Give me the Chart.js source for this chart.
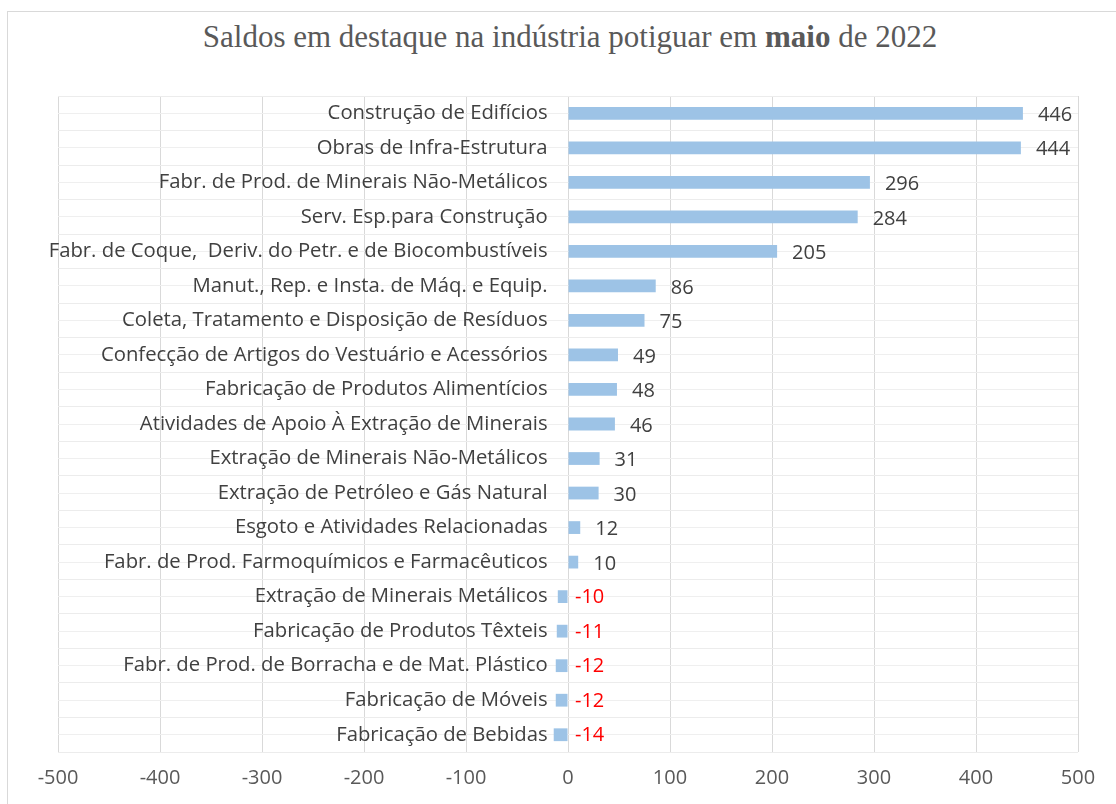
<!DOCTYPE html>
<html>
<head>
<meta charset="utf-8">
<script src="https://cdn.jsdelivr.net/npm/chart.js@4/dist/chart.umd.min.js"></script>
<style>
  html, body { margin: 0; padding: 0; background: #fff; overflow: hidden; }
  #frame { position: absolute; left: 7px; top: 11px; width: 1130px; height: 820px; border: 1px solid #d9d9d9; }
  #title { position: absolute; left: 0; top: 19px; width: 1140px; text-align: center;
           font-family: "Liberation Serif", "DejaVu Serif", serif; font-size: 31px; color: #595959; }
  #wrap { position: absolute; left: 0; top: 0; width: 1116px; height: 804px; }
</style>
</head>
<body>
<div id="frame"></div>
<div id="title">Saldos em destaque na indústria potiguar em <b>maio</b> de 2022</div>
<div id="wrap"><canvas id="chart"></canvas></div>
<script>
// Setores e saldos de emprego (maio 2022)
const categories = [
    'Construção de Edifícios',
    'Obras de Infra-Estrutura',
    'Fabr. de Prod. de Minerais Não-Metálicos',
    'Serv. Esp.para Construção',
    'Fabr. de Coque,  Deriv. do Petr. e de Biocombustíveis',
    'Manut., Rep. e Insta. de Máq. e Equip.',
    'Coleta, Tratamento e Disposição de Resíduos',
    'Confecção de Artigos do Vestuário e Acessórios',
    'Fabricação de Produtos Alimentícios',
    'Atividades de Apoio À Extração de Minerais',
    'Extração de Minerais Não-Metálicos',
    'Extração de Petróleo e Gás Natural',
    'Esgoto e Atividades Relacionadas',
    'Fabr. de Prod. Farmoquímicos e Farmacêuticos',
    'Extração de Minerais Metálicos',
    'Fabricação de Produtos Têxteis',
    'Fabr. de Prod. de Borracha e de Mat. Plástico',
    'Fabricação de Móveis',
    'Fabricação de Bebidas'
];
const saldos = [446, 444, 296, 284, 205, 86, 75, 49, 48, 46, 31, 30, 12, 10, -10, -11, -12, -12, -14];

// Eixo X
const xMin = -500;
const xMax = 500;
const xStep = 100;

const labelFont = '"Open Sans", "Lato", sans-serif';

// Rótulos de valor ao lado das barras
const valueLabels = {
    id: 'valueLabels',
    afterDatasetsDraw(chart) {
        const ctx = chart.ctx;
        const meta = chart.getDatasetMeta(0);
        const zero = chart.scales.x.getPixelForValue(0);
        ctx.save();
        ctx.font = '20px ' + labelFont;
        ctx.textBaseline = 'middle';
        ctx.textAlign = 'left';
        meta.data.forEach((bar, i) => {
            const v = saldos[i];
            if (v >= 0) {
                ctx.fillStyle = '#404040';
                ctx.fillText(String(v), bar.x + 15, bar.y + 2);
            } else {
                ctx.fillStyle = '#ff0000';
                ctx.fillText(String(v), zero + 7, bar.y + 1);
            }
        });
        ctx.restore();
    }
};

new Chart(document.getElementById('chart'), {
    type: 'bar',
    data: {
        labels: categories,
        datasets: [{
            data: saldos,
            backgroundColor: '#9dc3e6',
            borderWidth: 0,
            categoryPercentage: 1,
            barPercentage: 0.37
        }]
    },
    options: {
        indexAxis: 'y',
        responsive: true,
        maintainAspectRatio: false,
        animation: false,
        layout: { padding: { left: 58, right: 38, top: 96, bottom: 0 } },
        plugins: {
            legend: { display: false },
            tooltip: { enabled: false }
        },
        scales: {
            x: {
                min: xMin,
                max: xMax,
                ticks: {
                    stepSize: xStep,
                    padding: 14,
                    color: '#595959',
                    font: { family: labelFont, size: 20 }
                },
                grid: { color: '#d9d9d9', drawTicks: false },
                border: { display: false }
            },
            y: {
                // rótulos ficam à esquerda do zero, dentro da área do gráfico
                position: { x: -20 },
                ticks: {
                    color: '#404040',
                    font: { family: labelFont, size: 20.3 }
                },
                grid: { color: '#ececec', drawTicks: false, offset: true },
                border: { display: false }
            },
            y2: {
                type: 'category',
                labels: categories,
                position: { x: 0 },
                offset: true,
                ticks: { display: false },
                grid: { color: '#efefef', drawTicks: false, offset: false },
                border: { display: false }
            }
        }
    },
    plugins: [valueLabels]
});
</script>
</body>
</html>
